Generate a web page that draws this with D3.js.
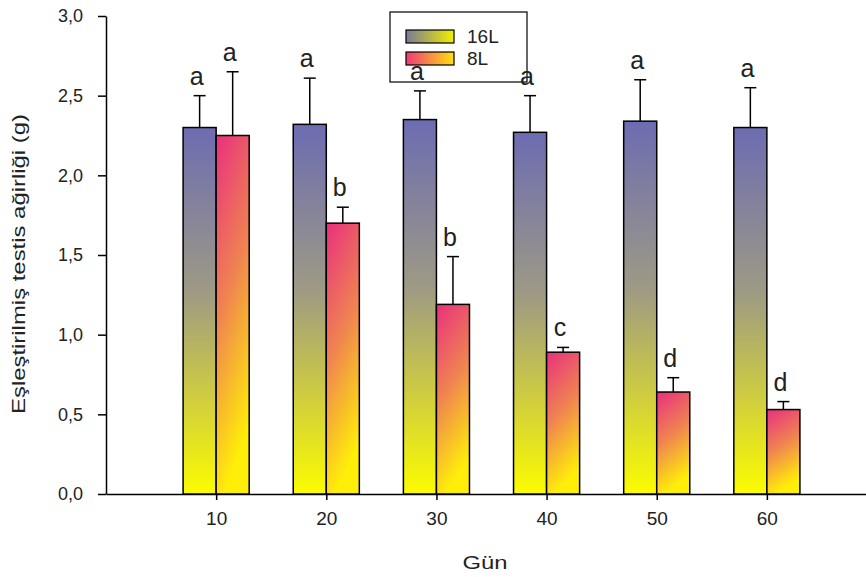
<!doctype html>
<html>
<head>
<meta charset="utf-8">
<style>
  body { margin: 0; background: #fff; }
  text { font-family: Arial, "Liberation Sans", sans-serif; }
</style>
</head>
<body>
  <svg id="chart"></svg>
<script src="https://d3js.org/d3.v7.min.js"></script>
<script>
  // data
  const days = [10, 20, 30, 40, 50, 60];
  const mean16L = [2.30, 2.32, 2.35, 2.27, 2.34, 2.30];
  const err16L = [0.20, 0.29, 0.18, 0.23, 0.26, 0.25];
  const mean8L = [2.25, 1.70, 1.19, 0.89, 0.64, 0.53];
  const err8L = [0.40, 0.10, 0.30, 0.03, 0.09, 0.05];
  const letters16L = ["a", "a", "a", "a", "a", "a"];
  const letters8L = ["a", "b", "b", "c", "d", "d"];
  const yTicks = [0, 0.5, 1, 1.5, 2, 2.5, 3];
  const seriesNames = ["16L", "8L"];

  const width = 866, height = 577;
  const svg = d3.select("#chart").attr("width", width).attr("height", height);

  const x = d3.scaleLinear().domain([0, 69]).range([106, 866]);
  const y = d3.scaleLinear().domain([0, 3]).range([494, 16]);
  const barW = 3; // in day units

  const defs = svg.append("defs");
  function grad(id, stops, x2, y2) {
    const g = defs.append("linearGradient").attr("id", id)
      .attr("x1", 0).attr("y1", 0).attr("x2", x2).attr("y2", y2);
    stops.forEach(s => g.append("stop").attr("offset", s[0]).attr("stop-color", s[1]));
  }
  grad("g16", [[0, "#6c6cb2"], [0.45, "#9e9a84"], [1, "#fcfc00"]], 0, 1);
  grad("g8", [[0, "#e8307e"], [0.5, "#f08450"], [1, "#ffee08"]], 0.25, 1);
  grad("l16", [[0, "#7a7a9a"], [1, "#f0f000"]], 1, 0);
  grad("l8", [[0, "#ee3a78"], [1, "#ffe010"]], 1, 0);

  const series = [
    { name: seriesNames[0], mean: mean16L, err: err16L, letters: letters16L, off: -barW, fill: "url(#g16)" },
    { name: seriesNames[1], mean: mean8L, err: err8L, letters: letters8L, off: 0, fill: "url(#g8)" }
  ];

  // axes
  const yAxis = d3.axisLeft(y).tickValues(yTicks).tickSize(8).tickSizeOuter(0)
    .tickFormat(d => d3.format(".1f")(d).replace(".", ","));
  const gy = svg.append("g").attr("transform", "translate(106,0)").call(yAxis);
  gy.selectAll("text").attr("font-size", 18).attr("fill", "#222").attr("x", -23);
  gy.select(".domain").attr("stroke", "#000").attr("stroke-width", 1.5);
  gy.selectAll(".tick line").attr("stroke-width", 1.5);

  const xAxis = d3.axisBottom(x).tickValues(days).tickSize(6).tickSizeOuter(0);
  const gx = svg.append("g").attr("transform", "translate(0,494)").call(xAxis);
  gx.selectAll("text").attr("font-size", 19).attr("fill", "#222").attr("dy", "1.15em");
  gx.select(".domain").attr("stroke", "#000").attr("stroke-width", 1.5);
  gx.selectAll(".tick line").attr("stroke-width", 1.5);

  // bars
  series.forEach(s => {
    const g = svg.append("g");
    days.forEach((d, i) => {
      const x0 = x(d + s.off), x1 = x(d + s.off + barW);
      const cx = (x0 + x1) / 2;
      const top = y(s.mean[i]), etop = y(s.mean[i] + s.err[i]);
      g.append("line").attr("x1", cx).attr("x2", cx).attr("y1", top).attr("y2", etop)
        .attr("stroke", "#000").attr("stroke-width", 1.5);
      g.append("line").attr("x1", cx - 6).attr("x2", cx + 6).attr("y1", etop).attr("y2", etop)
        .attr("stroke", "#000").attr("stroke-width", 1.5);
      g.append("rect").attr("x", x0).attr("y", top).attr("width", x1 - x0).attr("height", y(0) - top)
        .attr("fill", s.fill).attr("stroke", "#000").attr("stroke-width", 1.5);
    });
  });

  // legend
  const lg = svg.append("g");
  lg.append("rect").attr("x", 390).attr("y", 12).attr("width", 137).attr("height", 70)
    .attr("fill", "none").attr("stroke", "#000").attr("stroke-width", 1.2);
  ["url(#l16)", "url(#l8)"].forEach((f, i) => {
    lg.append("rect").attr("x", 406).attr("y", 30 + i * 22).attr("width", 48).attr("height", 13)
      .attr("fill", f).attr("stroke", "#000").attr("stroke-width", 1.2);
    lg.append("text").attr("x", 467).attr("y", 43 + i * 22).attr("font-size", 19)
      .attr("fill", "#222").text(seriesNames[i]);
  });

  // letters
  series.forEach(s => {
    days.forEach((d, i) => {
      const cx = (x(d + s.off) + x(d + s.off + barW)) / 2;
      svg.append("text").attr("x", cx - 3).attr("y", y(s.mean[i] + s.err[i]) - 11)
        .attr("text-anchor", "middle").attr("font-size", 25).attr("fill", "#222")
        .text(s.letters[i]);
    });
  });

  // titles
  svg.append("text").attr("x", 485).attr("y", 569).attr("text-anchor", "middle")
    .attr("font-size", 19).attr("fill", "#222")
    .attr("textLength", 45).attr("lengthAdjust", "spacingAndGlyphs").text("Gün");
  svg.append("text").attr("transform", "translate(25,264) rotate(-90)").attr("text-anchor", "middle")
    .attr("font-size", 18).attr("fill", "#222")
    .attr("textLength", 300).attr("lengthAdjust", "spacingAndGlyphs")
    .text("Eşleştirilmiş testis ağirliği (g)");
</script>
</body>
</html>
